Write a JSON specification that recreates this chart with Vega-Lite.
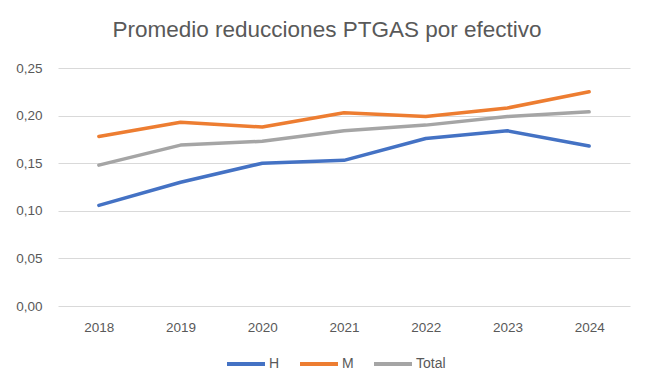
{
  "$schema": "https://vega.github.io/schema/vega-lite/v6.json",
  "width": 572,
  "height": 238,
  "autosize": {"type": "none"},
  "padding": {"left": 58, "top": 68, "right": 25, "bottom": 85},
  "background": "white",
  "title": {
    "text": "Promedio reducciones PTGAS por efectivo",
    "font": "Liberation Sans",
    "fontSize": 22.5,
    "fontWeight": "normal",
    "color": "#595959",
    "anchor": "middle",
    "frame": "group",
    "dx": -17,
    "offset": 20
  },
  "data": {
    "values": [
      {"year": "2018", "serie": "H", "value": 0.1057},
      {"year": "2019", "serie": "H", "value": 0.130},
      {"year": "2020", "serie": "H", "value": 0.150},
      {"year": "2021", "serie": "H", "value": 0.153},
      {"year": "2022", "serie": "H", "value": 0.176},
      {"year": "2023", "serie": "H", "value": 0.184},
      {"year": "2024", "serie": "H", "value": 0.168},
      {"year": "2018", "serie": "M", "value": 0.178},
      {"year": "2019", "serie": "M", "value": 0.193},
      {"year": "2020", "serie": "M", "value": 0.188},
      {"year": "2021", "serie": "M", "value": 0.203},
      {"year": "2022", "serie": "M", "value": 0.199},
      {"year": "2023", "serie": "M", "value": 0.208},
      {"year": "2024", "serie": "M", "value": 0.225},
      {"year": "2018", "serie": "Total", "value": 0.148},
      {"year": "2019", "serie": "Total", "value": 0.169},
      {"year": "2020", "serie": "Total", "value": 0.173},
      {"year": "2021", "serie": "Total", "value": 0.184},
      {"year": "2022", "serie": "Total", "value": 0.190},
      {"year": "2023", "serie": "Total", "value": 0.199},
      {"year": "2024", "serie": "Total", "value": 0.204}
    ]
  },
  "mark": {"type": "line", "strokeWidth": 3.5, "strokeCap": "round", "strokeJoin": "round"},
  "encoding": {
    "x": {
      "field": "year",
      "type": "ordinal",
      "scale": {"type": "point", "padding": 0.5},
      "axis": {
        "title": null,
        "labelAngle": 0,
        "domain": false,
        "ticks": false,
        "grid": false,
        "labelPadding": 14,
        "labelFont": "Liberation Sans",
        "labelFontSize": 13.5,
        "labelColor": "#595959"
      }
    },
    "y": {
      "field": "value",
      "type": "quantitative",
      "scale": {"domain": [0, 0.25], "nice": false, "zero": true},
      "axis": {
        "title": null,
        "values": [0, 0.05, 0.1, 0.15, 0.2, 0.25],
        "labelExpr": "replace(format(datum.value, '.2f'), '.', ',')",
        "domain": false,
        "ticks": false,
        "grid": true,
        "gridColor": "#D9D9D9",
        "gridWidth": 1,
        "labelPadding": 16,
        "labelFont": "Liberation Sans",
        "labelFontSize": 13.5,
        "labelColor": "#595959"
      }
    },
    "color": {
      "field": "serie",
      "type": "nominal",
      "scale": {"domain": ["H", "M", "Total"], "range": ["#4472C4", "#ED7D31", "#A5A5A5"]},
      "legend": {
        "title": null,
        "orient": "none",
        "direction": "horizontal",
        "legendX": 167,
        "legendY": 275,
        "symbolType": "stroke",
        "symbolSize": 1444,
        "symbolStrokeWidth": 4,
        "labelFont": "Liberation Sans",
        "labelFontSize": 14,
        "labelColor": "#595959",
        "labelOffset": 2,
        "columnPadding": 12
      }
    }
  },
  "config": {"view": {"stroke": null}}
}
